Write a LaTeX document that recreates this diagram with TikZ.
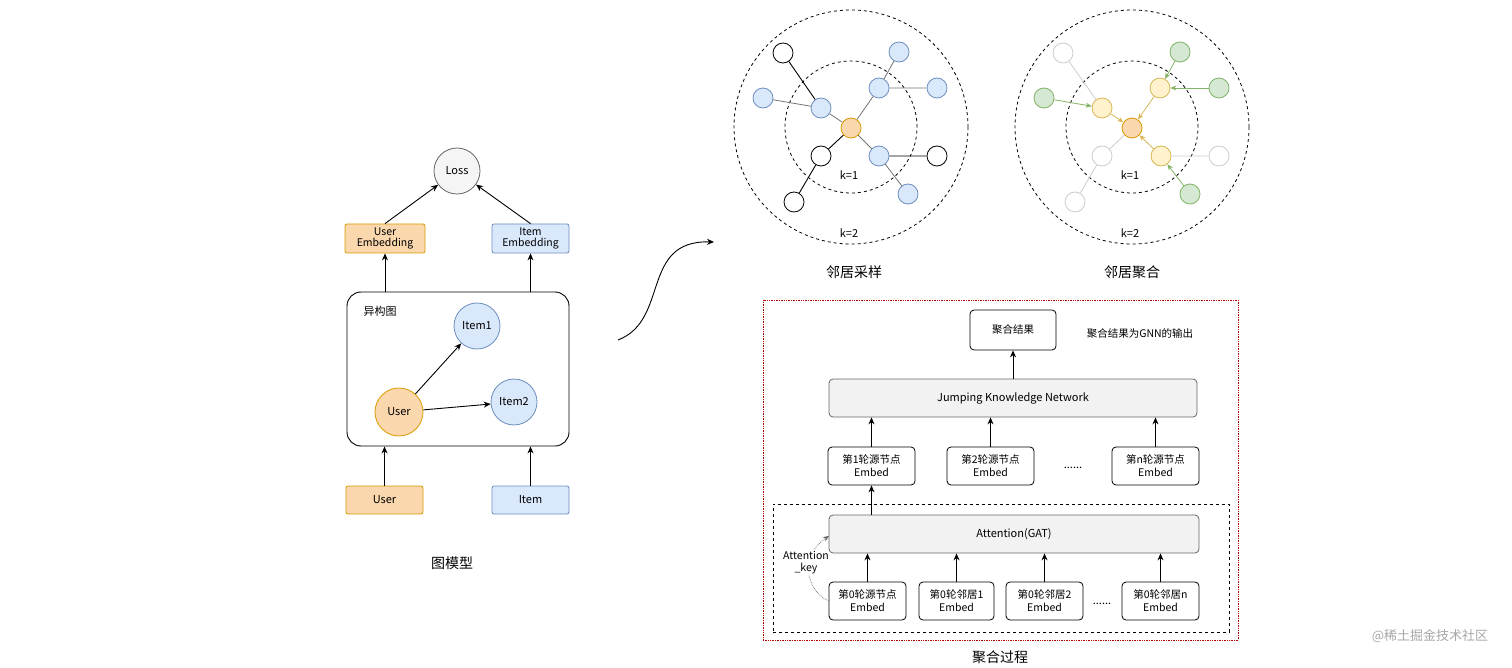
\documentclass[tikz,border=0pt]{standalone}
\usepackage{fontspec}
\setmainfont{Noto Sans CJK SC}
\usetikzlibrary{arrows.meta}
\definecolor{ofill}{HTML}{FAD7AC}\definecolor{ostr}{HTML}{D79B00}
\definecolor{bfill}{HTML}{DAE8FC}\definecolor{bstr}{HTML}{6C8EBF}
\definecolor{gfill}{HTML}{D5E8D4}\definecolor{gstr}{HTML}{82B366}
\definecolor{yfill}{HTML}{FFF2CC}\definecolor{ystr}{HTML}{D6B656}
\begin{document}
\begin{tikzpicture}[x=1pt,y=-1pt,
 every node/.style={font=\fontsize{11}{13}\selectfont},
 arr/.style={-{Stealth[length=7pt,width=6pt]},line width=0.9pt},
 circ/.style={circle,draw,line width=0.8pt,minimum size=#1,inner sep=0pt},
 nd/.style={circle,draw,line width=0.8pt,minimum size=20pt,inner sep=0pt},
 bl/.style={nd,fill=bfill,draw=bstr},
 bk/.style={nd,fill=white,draw=black},
 og/.style={nd,fill=ofill,draw=ostr},
 gr/.style={nd,fill=gfill,draw=gstr},
 yl/.style={nd,fill=yfill,draw=ystr},
 lg/.style={nd,fill=white,draw=black!20},
 box/.style={draw,rounded corners=4pt,line width=0.8pt,minimum width=#1,minimum height=38pt,align=center,inner sep=1pt,font=\fontsize{10.5}{13}\selectfont},
 ga/.style={-{Stealth[length=6pt,width=5pt]},draw=gstr,line width=0.8pt},
 ya/.style={-{Stealth[length=6pt,width=5pt]},draw=ystr,line width=0.8pt},
]
\useasboundingbox (0,0) rectangle (1512,668);
% ===== left model =====
\node[circ=46pt,fill=black!4,draw=black!60] (loss) at (457,171) {Loss};
\node[draw=ostr,fill=ofill,rounded corners=2pt,line width=0.8pt,minimum width=80pt,minimum height=29pt,align=center,inner sep=0pt,font=\fontsize{10.5}{11}\selectfont] (ue) at (385,238.5) {User\\Embedding};
\node[draw=bstr,fill=bfill,rounded corners=2pt,line width=0.8pt,minimum width=77pt,minimum height=29pt,align=center,inner sep=0pt,font=\fontsize{10.5}{11}\selectfont] (ie) at (530.5,238.5) {Item\\Embedding};
\node[draw,line width=0.9pt,rounded corners=14pt,minimum width=222pt,minimum height=154pt] (het) at (458,369) {};
\node (hl) at (380,311) {异构图};
\node[circ=46pt,fill=bfill,draw=bstr] (i1) at (477,326) {Item1};
\node[circ=48pt,fill=ofill,draw=ostr] (u) at (399,412) {User};
\node[circ=46pt,fill=bfill,draw=bstr] (i2) at (514,402) {Item2};
\node[draw=ostr,fill=ofill,rounded corners=2pt,line width=0.8pt,minimum width=77pt,minimum height=28pt] (ub) at (384.5,500) {User};
\node[draw=bstr,fill=bfill,rounded corners=2pt,line width=0.8pt,minimum width=77pt,minimum height=28pt] (ib) at (530.5,500) {Item};
\node[font=\fontsize{14}{16}\selectfont] (t1) at (452,563) {图模型};
\draw[arr] (u) -- (i1);
\draw[arr] (u) -- (i2);
\draw[arr] (ub.north) -- (ub.north|-het.south);
\draw[arr] (ib.north) -- (ib.north|-het.south);
\draw[arr] (het.north-|ue.south) -- (ue.south);
\draw[arr] (het.north-|ie.south) -- (ie.south);
\draw[arr] (ue.north) -- (loss);
\draw[arr] (ie.north) -- (loss);
% curved arrow
\coordinate (ca) at (618,340);
\coordinate (cb) at (714,242);
\draw[arr] (ca) .. controls (670,320) and (640,240) .. (cb);
% ===== sampling graph =====
\node[circ=234pt,dashed,line width=0.8pt] (o1) at (851,127) {};
\node[circ=132pt,dashed,line width=0.8pt] (n1) at (851,127) {};
\node[og] (c) at (851,128) {};
\node[bk] (a1) at (783,53) {};
\node[bl] (a2) at (763,98) {};
\node[bl] (a3) at (821,108) {};
\node[bl] (a4) at (879,88) {};
\node[bl] (a5) at (899,52) {};
\node[bl] (a6) at (937,88) {};
\node[bk] (a7) at (821,156) {};
\node[bk] (a8) at (794,202) {};
\node[bl] (a9) at (879,156) {};
\node[bk] (a10) at (937,156) {};
\node[bl] (a11) at (908,194) {};
\draw[black!55,line width=0.8pt] (c)--(a3) (c)--(a4) (c)--(a9) (a3)--(a2) (a4)--(a5) (a4)--(a6) (a9)--(a11);
\draw[black,line width=0.9pt] (c)--(a7) (a3)--(a1) (a7)--(a8) (a9)--(a10);
\node (k1a) at (849,175) {k=1};
\node (k2a) at (849,233) {k=2};
\node[font=\fontsize{14}{16}\selectfont] (t2) at (854,272) {邻居采样};
% ===== aggregation graph =====
\node[circ=234pt,dashed,line width=0.8pt] (o2) at (1132,127) {};
\node[circ=132pt,dashed,line width=0.8pt] (n2) at (1132,127) {};
\node[og] (d) at (1132,128) {};
\node[lg] (b1) at (1063,53) {};
\node[gr] (b2) at (1044,98) {};
\node[yl] (b3) at (1102,108) {};
\node[yl] (b4) at (1160,88) {};
\node[gr] (b5) at (1180,52) {};
\node[gr] (b6) at (1219,88) {};
\node[lg] (b7) at (1102,156) {};
\node[lg] (b8) at (1075,202) {};
\node[yl] (b9) at (1161,156) {};
\node[lg] (b10) at (1219,156) {};
\node[gr] (b11) at (1190,194) {};
\draw[black!20,line width=0.8pt] (d)--(b7) (b3)--(b1) (b7)--(b8) (b9)--(b10);
\draw[ga] (b2)--(b3); \draw[ga] (b5)--(b4); \draw[ga] (b6)--(b4); \draw[ga] (b11)--(b9);
\draw[ya] (b3)--(d); \draw[ya] (b4)--(d); \draw[ya] (b9)--(d);
\node (k1b) at (1130,175) {k=1};
\node (k2b) at (1130,233) {k=2};
\node[font=\fontsize{14}{16}\selectfont] (t3) at (1132,272) {邻居聚合};
% ===== aggregation process =====
\node[draw=red!70!black,densely dotted,line width=0.7pt,minimum width=475pt,minimum height=340pt] (red) at (1000.5,470) {};
\node[draw,line width=0.9pt,dashed,minimum width=456pt,minimum height=128pt] (dbox) at (1001,568) {};
\node[box=86pt,minimum height=40pt] (res) at (1013,330) {聚合结果};
\node[font=\fontsize{10.5}{13}\selectfont] (rt) at (1140,334) {聚合结果为GNN的输出};
\node[box=368pt,fill=black!5,draw=black!60,font=\fontsize{11}{13}\selectfont] (jkn) at (1013,398) {Jumping Knowledge Network};
\node[box=87pt] (r1) at (871.5,466) {第1轮源节点\\Embed};
\node[box=87pt] (r2) at (990.5,466) {第2轮源节点\\Embed};
\node[box=87pt] (r3) at (1155.5,466) {第n轮源节点\\Embed};
\node (d1) at (1073,468) {......};
\node[box=370pt,fill=black!5,draw=black!60,font=\fontsize{11}{13}\selectfont] (att) at (1014,534) {Attention(GAT)};
\node[box=77pt] (s1) at (867.5,601) {第0轮源节点\\Embed};
\node[box=75pt] (s2) at (956.5,601) {第0轮邻居1\\Embed};
\node[box=77pt] (s3) at (1044.5,601) {第0轮邻居2\\Embed};
\node[box=77pt] (s4) at (1160.5,601) {第0轮邻居n\\Embed};
\node (d2) at (1102,604) {......};
\draw[arr] (jkn.north-|res.south) -- (res.south);
\draw[arr] (r1.north) -- (r1.north|-jkn.south);
\draw[arr] (r2.north) -- (r2.north|-jkn.south);
\draw[arr] (r3.north) -- (r3.north|-jkn.south);
\draw[arr] (att.north-|r1.south) -- (r1.south);
\draw[arr] (s1.north) -- (s1.north|-att.south);
\draw[arr] (s2.north) -- (s2.north|-att.south);
\draw[arr] (s3.north) -- (s3.north|-att.south);
\draw[arr] (s4.north) -- (s4.north|-att.south);
\coordinate (ake) at (829,536);
\draw[-{Stealth[length=6pt,width=5pt]},black!60,densely dotted,line width=0.7pt] (s1.west) .. controls (805,590) and (800,555) .. (ake);
\node[font=\fontsize{10.5}{12}\selectfont,align=center,fill=white,inner sep=0.5pt] (ak) at (806,563) {Attention\\\_key};
\node[font=\fontsize{14}{16}\selectfont] (t4) at (1000,657) {聚合过程};
\node[font=\fontsize{13}{15}\selectfont,text=black!35] (wm) at (1430,636) {@稀土掘金技术社区};
\end{tikzpicture}
\end{document}
